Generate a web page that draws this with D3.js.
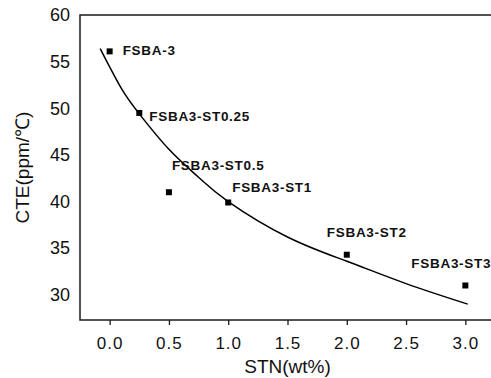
<!DOCTYPE html>
<html>
<head>
<meta charset="utf-8">
<script src="https://cdn.jsdelivr.net/npm/d3@7"></script>
<style>
  html, body { margin: 0; padding: 0; background: #fff; }
  text { font-family: "Liberation Sans", Arial, sans-serif; fill: #111; }
</style>
</head>
<body>
<div id="chart"></div>
<script>
// measured samples
const sampleNames = ['FSBA-3', 'FSBA3-ST0.25', 'FSBA3-ST0.5', 'FSBA3-ST1', 'FSBA3-ST2', 'FSBA3-ST3'];
const stnContent = [0, 0.25, 0.5, 1.0, 2.0, 3.0];
const cteValues = [56.1, 49.5, 41.0, 39.9, 34.3, 31.0];

// fitted curve
const fitX = [-0.08, 0.1, 0.25, 0.5, 0.75, 1.0, 1.5, 2.0, 2.5, 3.02];
const fitY = [56.4, 52.1, 49.4, 45.6, 42.6, 40.0, 36.2, 33.6, 31.2, 29.0];

const xTicks = [0, 0.5, 1.0, 1.5, 2.0, 2.5, 3.0];
const yTicks = [30, 35, 40, 45, 50, 55, 60];

// label placement relative to each point (px)
const labelDx = [13, 10, 3, 4, -20, -54];
const labelDy = [4, 8, -22, -10, -18, -17];

const width = 491;
const height = 378;

const svg = d3.select('#chart')
  .append('svg')
  .attr('width', width)
  .attr('height', height);

const x = d3.scaleLinear()
  .domain([-0.25, 3.25])
  .range([80, 495]);

const y = d3.scaleLinear()
  .domain([27.3, 60])
  .range([320, 15]);

// frame
svg.append('rect')
  .attr('x', x.range()[0])
  .attr('y', y.range()[1])
  .attr('width', x.range()[1] - x.range()[0])
  .attr('height', y.range()[0] - y.range()[1])
  .attr('fill', 'none')
  .attr('stroke', '#1a1a1a')
  .attr('stroke-width', 1.5);

const xAxis = svg.append('g')
  .attr('transform', `translate(0,${y.range()[0]})`)
  .call(d3.axisBottom(x).tickValues(xTicks).tickFormat(d3.format('.1f')).tickSize(5).tickPadding(12));
xAxis.select('.domain').remove();
xAxis.selectAll('line').attr('stroke', '#1a1a1a').attr('stroke-width', 1.3);
xAxis.selectAll('text')
  .attr('font-size', 17)
  .attr('letter-spacing', 1)
  .attr('fill', '#111');

const yAxis = svg.append('g')
  .attr('transform', `translate(${x.range()[0]},0)`)
  .call(d3.axisLeft(y).tickValues(yTicks).tickFormat(d3.format('d')).tickSize(0).tickPadding(10));
yAxis.select('.domain').remove();
yAxis.selectAll('text')
  .attr('font-size', 18)
  .attr('fill', '#111');

svg.append('text')
  .attr('x', (x.range()[0] + width) / 2 + 2)
  .attr('y', 373)
  .attr('text-anchor', 'middle')
  .attr('font-size', 19)
  .text('STN(wt%)');

svg.append('text')
  .attr('transform', `translate(29,${(y.range()[0] + y.range()[1]) / 2}) rotate(-90)`)
  .attr('text-anchor', 'middle')
  .attr('font-size', 19)
  .text('CTE(ppm/℃)');

// fit line
const line = d3.line()
  .x(d => x(d[0]))
  .y(d => y(d[1]))
  .curve(d3.curveNatural);

svg.append('path')
  .datum(d3.zip(fitX, fitY))
  .attr('d', line)
  .attr('fill', 'none')
  .attr('stroke', '#000')
  .attr('stroke-width', 1.5);

const points = sampleNames.map((name, i) => ({
  name: name,
  stn: stnContent[i],
  cte: cteValues[i],
  dx: labelDx[i],
  dy: labelDy[i]
}));

svg.selectAll('rect.pt')
  .data(points)
  .enter()
  .append('rect')
  .attr('class', 'pt')
  .attr('x', d => x(d.stn) - 3)
  .attr('y', d => y(d.cte) - 3)
  .attr('width', 6)
  .attr('height', 6)
  .attr('fill', '#000');

svg.selectAll('text.lbl')
  .data(points)
  .enter()
  .append('text')
  .attr('class', 'lbl')
  .attr('x', d => x(d.stn) + d.dx)
  .attr('y', d => y(d.cte) + d.dy)
  .attr('font-size', 13.5)
  .attr('font-weight', 'bold')
  .attr('letter-spacing', 0.7)
  .text(d => d.name);
</script>
</body>
</html>
